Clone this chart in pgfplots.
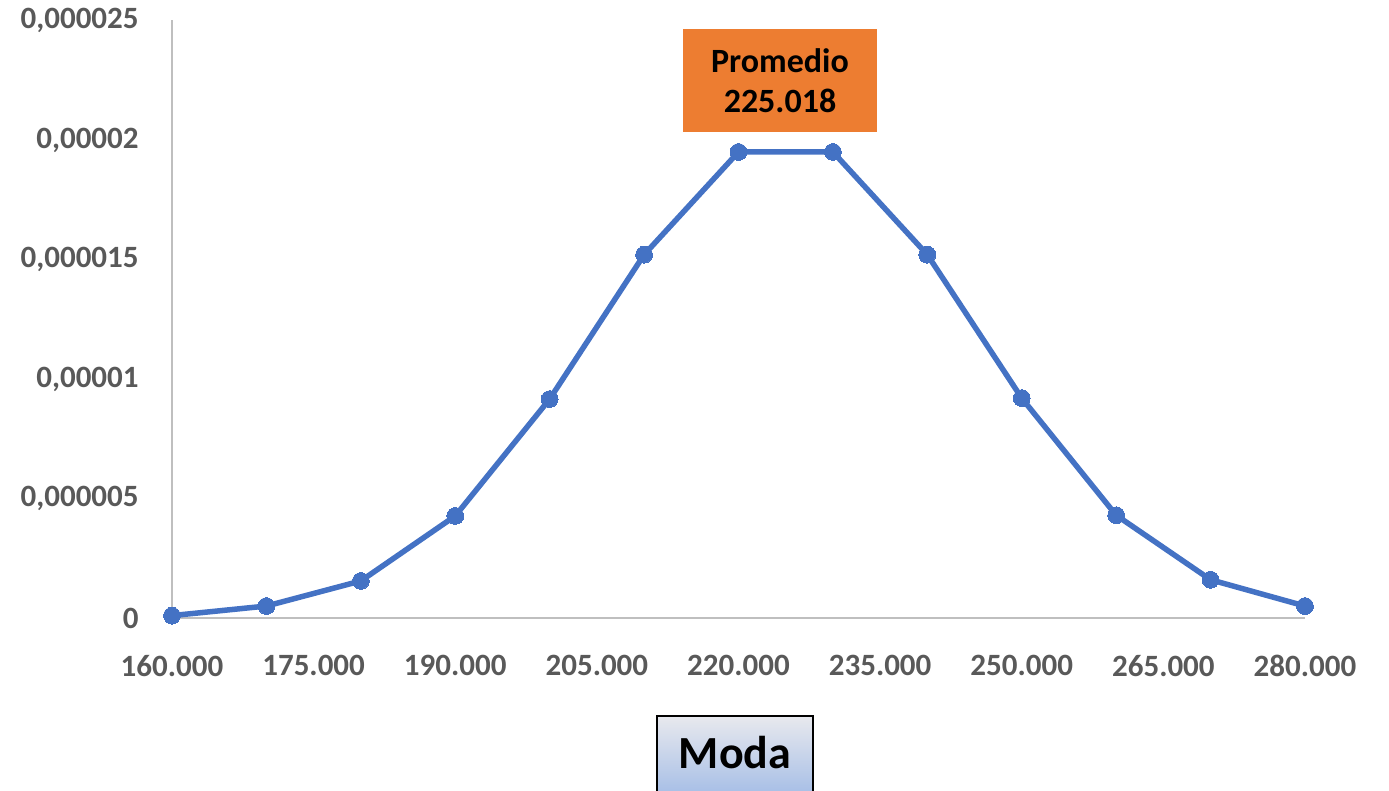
\documentclass[border=0pt]{standalone}
\usepackage{pgfplots}
\pgfplotsset{compat=1.18}
\usepackage{fontspec}
\setmainfont{Carlito}
\definecolor{lineblue}{HTML}{4472C4}
\definecolor{tickgray}{HTML}{595959}
\definecolor{axisgray}{HTML}{BFBFBF}
\definecolor{promorange}{HTML}{ED7D31}
\definecolor{modatop}{HTML}{E8E9EE}
\definecolor{modabot}{HTML}{A6BEE6}
\begin{document}
\begin{tikzpicture}
\useasboundingbox (0,0) rectangle (694.5pt,395.5pt);
\begin{axis}[
  at={(86pt,86.5pt)}, anchor=origin,
  scale only axis, width=566.5pt, height=298.75pt,
  xmin=160000, xmax=280000, ymin=0, ymax=0.000025,
  clip=false,
  axis lines*=left,
  axis line style={color=axisgray, line width=1.25pt},
  major tick length=0pt,
  xtick={160000,175000,190000,205000,220000,235000,250000,265000,280000},
  xticklabels={160.000,175.000,190.000,205.000,220.000,235.000,250.000,265.000,280.000},
  ytick={0,0.000005,0.00001,0.000015,0.00002,0.000025},
  yticklabels={0,{0,000005},{0,00001},{0,000015},{0,00002},{0,000025}},
  tick label style={font=\fontsize{15.5}{18}\selectfont\bfseries, text=tickgray, inner sep=0pt},
  xticklabel style={anchor=north, yshift=-18.5pt},
  yticklabel style={anchor=east, xshift=-16.5pt},
  scaled x ticks=false,
  scaled y ticks=false,
]
\addplot[color=lineblue, line width=2.75pt, mark=*, mark size=4.2pt, mark options={fill=lineblue, draw=lineblue, line width=0pt}] coordinates {
(160000,0.00000010)
(170000,0.00000050)
(180000,0.00000155)
(190000,0.00000427)
(200000,0.00000916)
(210000,0.0000152)
(220000,0.0000195)
(230000,0.0000195)
(240000,0.0000152)
(250000,0.0000092)
(260000,0.0000043)
(270000,0.0000016)
(280000,0.0000005)
};
\end{axis}
\node[fill=promorange, minimum width=97pt, minimum height=51.5pt, inner sep=0pt, align=center,
  font=\fontsize{17}{20}\selectfont\bfseries, text=black] at (390pt,355.25pt) {Promedio\\225.018};
\draw[black, line width=1pt, top color=modatop, bottom color=modabot] (328.5pt,-2pt) rectangle (406.5pt,37.5pt);
\node[font=\fontsize{23}{26}\selectfont\bfseries, text=black, anchor=base, inner sep=0pt] at (367.5pt,11pt) {Moda};
\end{tikzpicture}
\end{document}
